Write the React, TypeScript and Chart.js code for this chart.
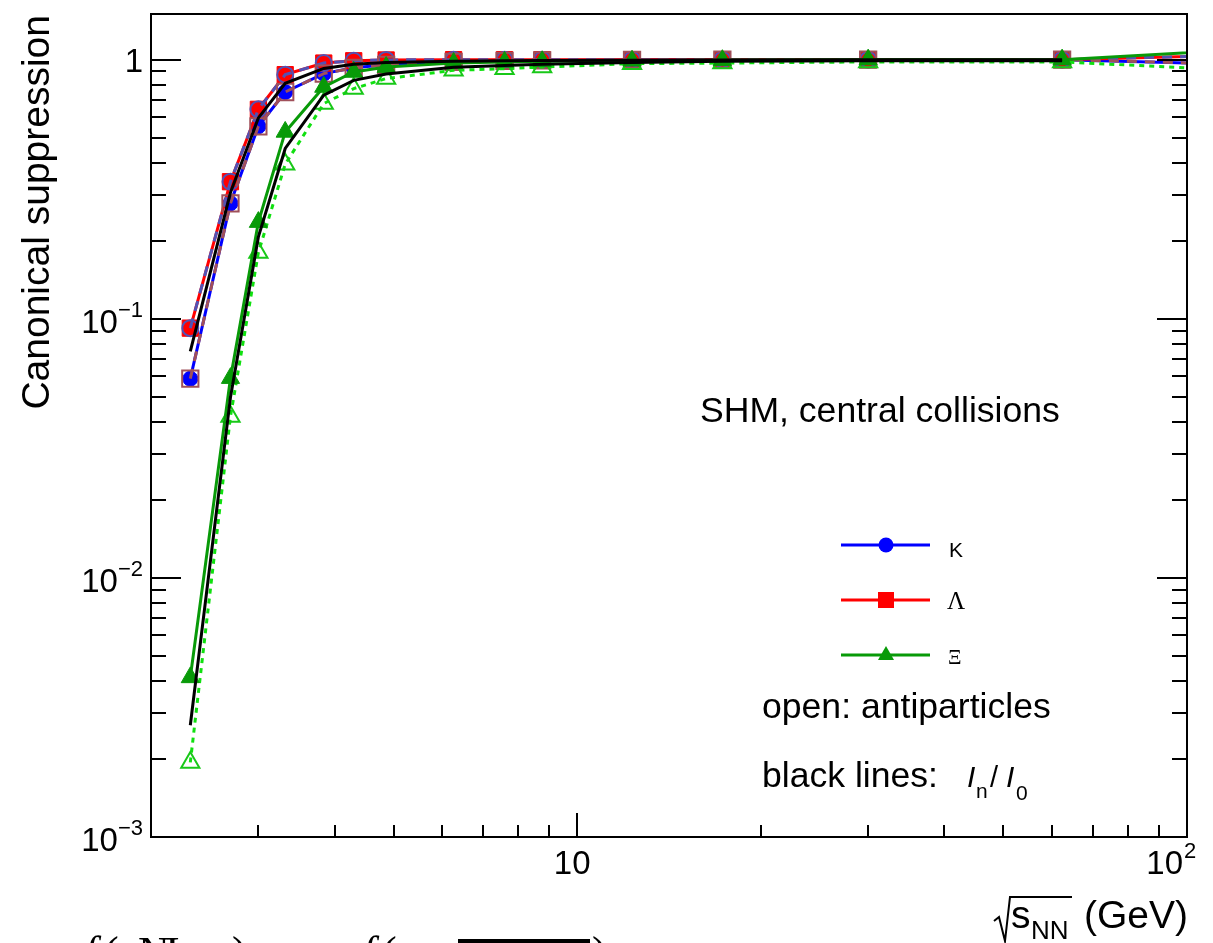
import React, { useEffect, useRef } from "react";
import { Chart, registerables } from "chart.js";

Chart.register(...registerables);

const W = 1213;
const H = 943;

// sqrt(s_NN) in GeV (last point lies beyond the frame, lines run to the edge)
const energies = [2.32, 2.7, 3.0, 3.32, 3.84, 4.3, 4.86, 6.27, 7.6, 8.76, 12.3, 17.3, 30, 62.4, 200];
const kaon = [0.0587, 0.279, 0.553, 0.75, 0.883, 0.93, 0.955, 0.98, 0.99, 0.993, 0.997, 1.0, 1.0, 1.0, 0.93];
const antiKaon = [0.092, 0.338, 0.643, 0.875, 0.97, 0.99, 0.997, 1.0, 1.0, 1.0, 1.0, 1.0, 1.0, 1.0, 1.07];
const lambda = [0.092, 0.338, 0.643, 0.875, 0.97, 0.99, 0.997, 1.0, 1.0, 1.0, 1.0, 1.0, 1.0, 1.0, 1.07];
const antiLambda = [0.0587, 0.279, 0.553, 0.75, 0.883, 0.93, 0.955, 0.98, 0.99, 0.993, 0.997, 1.0, 1.0, 1.0, 0.93];
const xi = [0.00413, 0.059, 0.236, 0.526, 0.784, 0.896, 0.936, 0.97, 0.98, 0.985, 0.99, 0.995, 1.0, 1.0, 1.166];
const antiXi = [0.00194, 0.042, 0.18, 0.395, 0.677, 0.773, 0.845, 0.909, 0.923, 0.936, 0.965, 0.97, 0.98, 0.98, 0.86];

// black lines: I_n / I_0
const ratioEnergies = [2.32, 2.7, 3.0, 3.32, 3.84, 4.3, 4.86, 6.27, 7.6, 8.76, 12.3, 17.3, 30, 62.4];
const ratioS1 = [0.0748, 0.307, 0.596, 0.81, 0.925, 0.96, 0.975, 0.985, 0.99, 0.992, 0.995, 0.997, 0.998, 0.998];
const ratioS2 = [0.0027, 0.0498, 0.207, 0.454, 0.729, 0.832, 0.88, 0.935, 0.95, 0.96, 0.975, 0.985, 0.99, 0.99];

const yTickValues = [0.001, 0.01, 0.1, 1];
const yTickLabels = [["10", "−3"], ["10", "−2"], ["10", "−1"], ["1", ""]];
const xTickValues = [10, 100];
const xTickLabels = [["10", ""], ["10", "2"]];

const legendLabels = ["K", "Λ", "Ξ"];

const SANS = '"Liberation Sans", Arial, Helvetica, sans-serif';
const SERIF = '"Liberation Serif", "DejaVu Serif", serif';

const C_K = "#0000ff";
const C_AK = "#5252b4";
const C_L = "#ff0000";
const C_AL = "#a0505a";
const C_XI = "#089a08";
const C_AXI_LINE = "#10e010";
const C_AXI_MARK = "#18c818";

function pts(xs: number[], ys: number[]) {
  return xs.map((x, i) => ({ x, y: ys[i] }));
}

const overlay = {
  id: "rootStyle",
  afterDraw(chart: any) {
    const { ctx, chartArea: a } = chart;
    const xs = chart.scales.x;
    const ys = chart.scales.y;
    ctx.save();
    ctx.strokeStyle = "#000";
    ctx.fillStyle = "#000";
    ctx.lineWidth = 2;
    const line = (x1: number, y1: number, x2: number, y2: number) => {
      ctx.beginPath();
      ctx.moveTo(x1, y1);
      ctx.lineTo(x2, y2);
      ctx.stroke();
    };
    // y ticks (left and right)
    for (let d = -3; d <= 0; d++) {
      for (let m = 1; m <= 9; m++) {
        const v = m * Math.pow(10, d);
        if (v > 1.5) continue;
        const py = Math.round(ys.getPixelForValue(v));
        if (py >= a.bottom - 0.5) continue;
        const len = m === 1 ? 30 : 15;
        line(a.left, py, a.left + len, py);
        line(a.right, py, a.right - len, py);
      }
    }
    // x ticks (bottom)
    for (let d = 0; d <= 2; d++) {
      for (let m = 1; m <= 9; m++) {
        const v = m * Math.pow(10, d);
        if (v <= 2 || v >= 100) continue;
        const px = Math.round(xs.getPixelForValue(v));
        const len = m === 1 ? 24 : 12;
        line(px, a.bottom, px, a.bottom - len);
      }
    }
    // frame
    ctx.strokeRect(a.left, a.top, a.right - a.left, a.bottom - a.top);

    // y tick labels
    ctx.textBaseline = "alphabetic";
    yTickValues.forEach((v, i) => {
      const py = ys.getPixelForValue(v);
      const [base, exp] = yTickLabels[i];
      ctx.textAlign = "right";
      if (!exp) {
        ctx.font = `33px ${SANS}`;
        ctx.fillText(base, 143, py + 12);
        return;
      }
      ctx.font = `22px ${SANS}`;
      const ew = ctx.measureText(exp).width;
      ctx.fillText(exp, 143, py - 2);
      ctx.font = `33px ${SANS}`;
      ctx.fillText(base, 143 - ew, py + 14);
    });
    // x tick labels
    xTickValues.forEach((v, i) => {
      const px = xs.getPixelForValue(v);
      const [base, exp] = xTickLabels[i];
      ctx.font = `33px ${SANS}`;
      if (!exp) {
        ctx.textAlign = "center";
        ctx.fillText(base, px - 5, 874);
        return;
      }
      ctx.textAlign = "right";
      ctx.fillText(base, px - 4, 874);
      ctx.font = `22px ${SANS}`;
      ctx.textAlign = "left";
      ctx.fillText(exp, px - 3, 858);
    });

    // y title
    ctx.save();
    ctx.translate(49, 15);
    ctx.rotate(-Math.PI / 2);
    ctx.font = `39px ${SANS}`;
    ctx.textAlign = "right";
    ctx.fillText("Canonical suppression", 0, 0);
    ctx.restore();

    // x title: sqrt(s_NN) (GeV)
    ctx.beginPath();
    ctx.moveTo(994, 921);
    ctx.lineTo(999, 917);
    ctx.lineTo(1005, 941);
    ctx.lineTo(1010, 897);
    ctx.lineTo(1072, 897);
    ctx.stroke();
    ctx.textAlign = "left";
    ctx.font = `39px ${SANS}`;
    ctx.fillText("s", 1011, 928);
    ctx.font = `26px ${SANS}`;
    ctx.fillText("NN", 1031, 939);
    ctx.font = `39px ${SANS}`;
    ctx.textAlign = "right";
    ctx.fillText("(GeV)", 1188, 928);

    // annotations
    ctx.textAlign = "left";
    ctx.font = `35.6px ${SANS}`;
    ctx.fillText("SHM, central collisions", 700, 422);
    ctx.fillText("open: antiparticles", 762, 718);
    ctx.fillText("black lines:", 762, 787);
    ctx.font = `italic 30px ${SANS}`;
    ctx.fillText("I", 967, 787);
    ctx.font = `21px ${SANS}`;
    ctx.fillText("n", 976, 798);
    ctx.font = `29px ${SANS}`;
    ctx.fillText("/", 990, 787);
    ctx.font = `italic 30px ${SANS}`;
    ctx.fillText("I", 1006, 787);
    ctx.font = `21px ${SANS}`;
    ctx.fillText("0", 1016, 800);

    // legend
    const legendColors = [C_K, C_L, C_XI];
    const legendY = [545, 600, 655];
    legendY.forEach((ly, i) => {
      ctx.strokeStyle = legendColors[i];
      ctx.fillStyle = legendColors[i];
      ctx.lineWidth = 3;
      line(841, ly, 930, ly);
      const cx = 886;
      ctx.beginPath();
      if (i === 0) {
        ctx.arc(cx, ly, 7.5, 0, Math.PI * 2);
      } else if (i === 1) {
        ctx.rect(cx - 8, ly - 8, 16, 16);
      } else {
        ctx.moveTo(cx, ly - 9);
        ctx.lineTo(cx + 8, ly + 5);
        ctx.lineTo(cx - 8, ly + 5);
        ctx.closePath();
      }
      ctx.fill();
    });
    ctx.fillStyle = "#000";
    ctx.textAlign = "left";
    ctx.font = `21px ${SANS}`;
    ctx.fillText(legendLabels[0], 949, 557);
    ctx.font = `25px ${SERIF}`;
    ctx.fillText(legendLabels[1], 947, 609);
    ctx.font = `21px ${SERIF}`;
    ctx.fillText(legendLabels[2], 948, 664);

    // cut-off formula fragment at the bottom of the page
    ctx.font = `italic 44px ${SERIF}`;
    ctx.fillText("f", 84, 967);
    ctx.fillText("f", 362, 967);
    ctx.font = `44px ${SERIF}`;
    ctx.fillText("(", 104, 967);
    ctx.fillText("N", 138, 967);
    ctx.fillText("I", 165, 967);
    ctx.fillText(")", 232, 967);
    ctx.fillText("(", 382, 967);
    ctx.fillText(")", 592, 967);
    ctx.fillRect(458, 939, 132, 4);

    ctx.restore();
  },
};

export default function App() {
  const ref = useRef<HTMLCanvasElement | null>(null);
  useEffect(() => {
    if (!ref.current) return;
    const common = { fill: false, tension: 0, clip: 0 as any, borderWidth: 3 };
    const chart = new Chart(ref.current, {
      type: "line",
      data: {
        datasets: [
          {
            ...common,
            label: "K",
            data: pts(energies, kaon),
            borderColor: C_K,
            pointStyle: "circle",
            pointRadius: 7.5,
            pointBackgroundColor: C_K,
            pointBorderColor: C_K,
            pointBorderWidth: 1,
            order: 7,
          },
          {
            ...common,
            label: "Λ",
            data: pts(energies, lambda),
            borderColor: C_L,
            pointStyle: "rect",
            pointRadius: 11.5,
            pointBackgroundColor: C_L,
            pointBorderColor: C_L,
            pointBorderWidth: 1,
            order: 6,
          },
          {
            ...common,
            label: "anti-K",
            data: pts(energies, antiKaon),
            borderColor: C_AK,
            borderDash: [10, 8],
            pointStyle: "circle",
            pointRadius: 8,
            pointBackgroundColor: "rgba(0,0,0,0)",
            pointBorderColor: C_AK,
            pointBorderWidth: 2,
            order: 5,
          },
          {
            ...common,
            label: "anti-Λ",
            data: pts(energies, antiLambda),
            borderColor: C_AL,
            borderDash: [10, 8],
            pointStyle: "rect",
            pointRadius: 11.5,
            pointBackgroundColor: "rgba(0,0,0,0)",
            pointBorderColor: C_AL,
            pointBorderWidth: 2,
            order: 4,
          },
          {
            ...common,
            label: "anti-Ξ",
            data: pts(energies, antiXi),
            borderColor: C_AXI_LINE,
            borderDash: [5, 5],
            pointStyle: "triangle",
            pointRadius: 10.5,
            pointBackgroundColor: "rgba(0,0,0,0)",
            pointBorderColor: C_AXI_MARK,
            pointBorderWidth: 2,
            order: 3,
          },
          {
            ...common,
            label: "Ξ",
            data: pts(energies, xi),
            borderColor: C_XI,
            pointStyle: "triangle",
            pointRadius: 10.5,
            pointBackgroundColor: C_XI,
            pointBorderColor: C_XI,
            pointBorderWidth: 1,
            order: 2,
          },
          {
            ...common,
            label: "I1/I0",
            data: pts(ratioEnergies, ratioS1),
            borderColor: "#000",
            pointRadius: 0,
            order: 1,
          },
          {
            ...common,
            label: "I2/I0",
            data: pts(ratioEnergies, ratioS2),
            borderColor: "#000",
            pointRadius: 0,
            order: 0,
          },
        ],
      },
      options: {
        animation: false,
        responsive: false,
        devicePixelRatio: 1,
        layout: { padding: { left: 151, right: 26, top: 14, bottom: 106 } },
        scales: {
          x: { type: "logarithmic", min: 2, max: 100, display: false },
          y: { type: "logarithmic", min: 0.001, max: 1.5, display: false },
        },
        plugins: { legend: { display: false }, tooltip: { enabled: false } },
        events: [],
      },
      plugins: [overlay],
    } as any);
    return () => chart.destroy();
  }, []);
  return (
    <div style={{ position: "fixed", left: 0, top: 0, width: W, height: H, background: "#fff" }}>
      <canvas ref={ref} width={W} height={H} style={{ display: "block", width: W, height: H }} />
    </div>
  );
}
